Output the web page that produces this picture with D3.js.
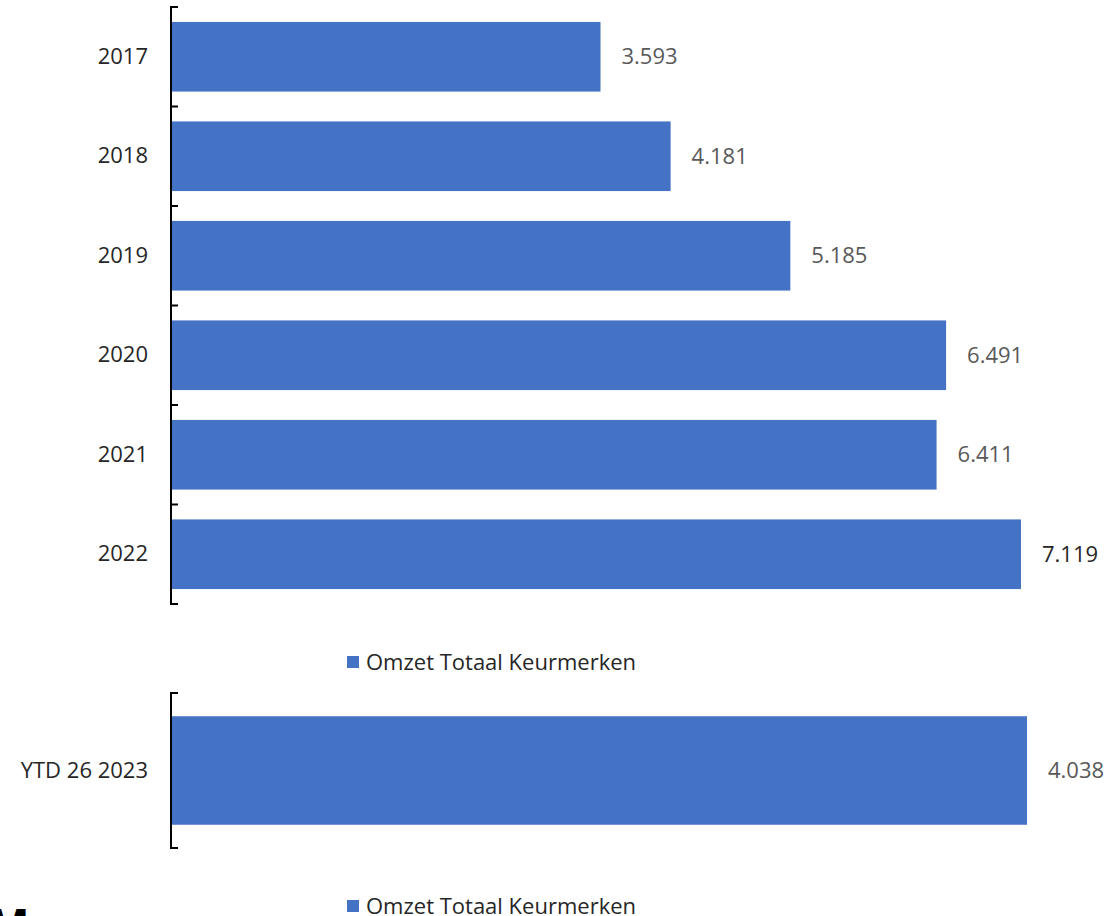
<!DOCTYPE html>
<html>
<head>
<meta charset="utf-8">
<script src="https://cdn.jsdelivr.net/npm/d3@7"></script>
<style>
  body { margin: 0; background: #fff; }
  svg { display: block; font-family: "Open Sans", sans-serif; }
  .cat { fill: #262626; font-size: 22px; font-family: "Open Sans", sans-serif; }
  .val { fill: #595959; font-size: 22px; }
  .legend { fill: #262626; font-size: 22px; }
</style>
</head>
<body>
<script>
const years = ["2017", "2018", "2019", "2020", "2021", "2022"];
const omzet = [3.593, 4.181, 5.185, 6.491, 6.411, 7.119];
const ytdLabels = ["YTD 26 2023"];
const ytdOmzet = [4.038];
const seriesName = "Omzet Totaal Keurmerken";

const colors = {
  bar: "#4472C4",
  axis: "#000"
};

const w = 1110;
const h = 916;

const svg = d3.select("body")
  .append("svg")
  .attr("width", w)
  .attr("height", h);

const fmt = d => d.toFixed(3);

function drawPanel(cats, vals, top, bottom, xEnd, legendY, darkLast) {
  const axisX = 171;

  const yScale = d3.scaleBand()
    .domain(cats)
    .range([top, bottom])
    .paddingInner(0.3)
    .paddingOuter(0.15);

  // the longest bar ends at xEnd
  const xScale = d3.scaleLinear()
    .domain([0, d3.max(vals)])
    .range([axisX + 1, xEnd]);

  const data = cats.map((c, i) => ({ name: c, value: vals[i] }));
  const g = svg.append("g");

  g.selectAll("rect")
    .data(data)
    .enter()
    .append("rect")
    .attr("x", xScale(0))
    .attr("y", d => yScale(d.name))
    .attr("width", d => xScale(d.value) - xScale(0))
    .attr("height", yScale.bandwidth())
    .attr("fill", colors.bar);

  g.selectAll(".val")
    .data(data)
    .enter()
    .append("text")
    .attr("class", "val")
    .attr("x", d => xScale(d.value) + 21)
    .attr("y", d => yScale(d.name) + yScale.bandwidth() / 2)
    .attr("dy", "0.35em")
    .style("fill", (d, i) => darkLast && i === data.length - 1 ? "#262626" : null)
    .text(d => fmt(d.value));

  // category labels
  const yAxis = d3.axisLeft(yScale).tickSize(0).tickPadding(23);
  const ag = g.append("g")
    .attr("transform", `translate(${axisX},0)`)
    .call(yAxis)
    .attr("font-family", null)
    .attr("font-size", null);
  ag.select(".domain").remove();
  ag.selectAll("text").attr("class", "cat").attr("fill", null);

  // axis line + ticks between categories
  const step = yScale.step();
  const bounds = d3.range(cats.length + 1).map(i => top + i * step);
  g.append("line")
    .attr("x1", axisX).attr("x2", axisX)
    .attr("y1", top).attr("y2", bottom)
    .attr("stroke", colors.axis)
    .attr("stroke-width", 2);
  g.selectAll(".tick-b")
    .data(bounds)
    .enter()
    .append("line")
    .attr("x1", axisX - 1).attr("x2", axisX + 7)
    .attr("y1", d => d).attr("y2", d => d)
    .attr("stroke", colors.axis)
    .attr("stroke-width", 2);

  // legend
  const lg = g.append("g").attr("transform", `translate(347,${legendY})`);
  lg.append("rect")
    .attr("x", 0).attr("y", -6)
    .attr("width", 12).attr("height", 12)
    .attr("fill", colors.bar);
  lg.append("text")
    .attr("class", "legend")
    .attr("x", 19)
    .attr("y", 0)
    .attr("dy", "0.35em")
    .text(seriesName);
}

drawPanel(years, omzet, 7, 604, 1021, 662, true);
drawPanel(ytdLabels, ytdOmzet, 693, 848, 1027, 906, false);

// cut-off heading at the bottom edge
svg.append("text")
  .attr("x", -12)
  .attr("y", 941)
  .style("font-size", "44px")
  .style("font-weight", "bold")
  .attr("fill", "#000")
  .text("M");
</script>
</body>
</html>
